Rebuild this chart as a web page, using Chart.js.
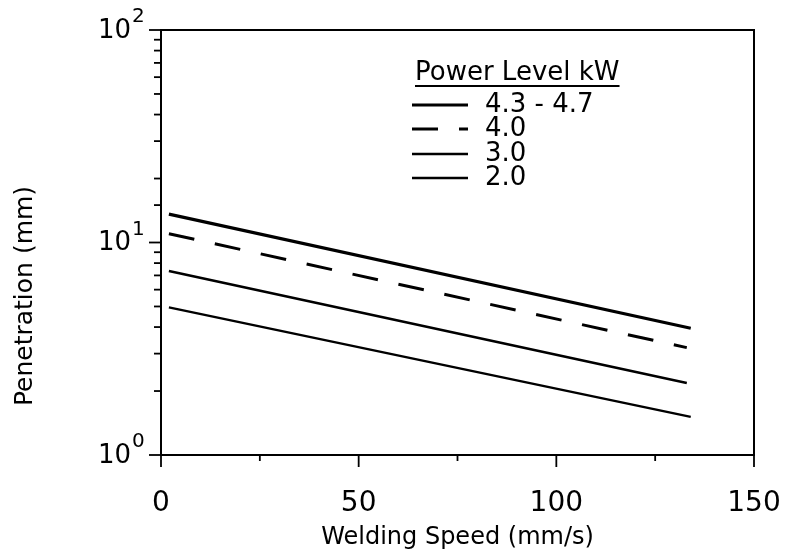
<!DOCTYPE html>
<html><head><meta charset="utf-8">
<script src="https://cdn.jsdelivr.net/npm/chart.js@4/dist/chart.umd.min.js"></script>
<style>html,body{margin:0;padding:0;background:#fff}#wrap{width:787px;height:557px}</style>
</head><body><div id="wrap"><canvas id="c" width="787" height="557"></canvas></div>
<script>
// ---- data ----
const seriesLabels = ['4.3 - 4.7', '4.0', '3.0', '2.0'];
const speeds47 = [2, 134];
const pen47 = [13.6, 3.95];
const speeds40 = [2, 133];
const pen40 = [11.0, 3.2];
const speeds30 = [2, 133];
const pen30 = [7.35, 2.18];
const speeds20 = [2, 134];
const pen20 = [4.95, 1.51];
const xTickValues = [0, 50, 100, 150];
const yDecades = [1, 10, 100];
const legendTitle = 'Power Level kW';
const yTitle = 'Penetration (mm)';
const xTitle = 'Welding Speed (mm/s)';

const FONT = "'DejaVu Sans', sans-serif";
const pts = (xs, ys) => xs.map((x, i) => ({x: x, y: ys[i]}));

const framePlugin = {
  id: 'frame',
  afterDraw(chart) {
    const ctx = chart.ctx, a = chart.chartArea;
    const xs = chart.scales.x, ys = chart.scales.y;
    ctx.save();
    ctx.strokeStyle = '#000';
    ctx.lineWidth = 2;
    ctx.beginPath();
    ctx.moveTo(a.left, a.top); ctx.lineTo(a.right, a.top); ctx.lineTo(a.right, a.bottom);
    ctx.stroke();
    // y tick marks (outward, left)
    ctx.lineWidth = 1.8;
    ys.ticks.forEach(t => {
      const y = ys.getPixelForValue(t.value);
      const major = Math.abs(Math.log10(t.value) - Math.round(Math.log10(t.value))) < 1e-9;
      ctx.beginPath();
      ctx.moveTo(a.left - (major ? 12 : 7), y); ctx.lineTo(a.left, y);
      ctx.stroke();
    });
    // x tick marks (downward)
    for (let v = 0; v <= 150; v += 25) {
      const x = xs.getPixelForValue(v);
      const major = v % 50 === 0;
      ctx.beginPath();
      ctx.moveTo(x, a.bottom); ctx.lineTo(x, a.bottom + (major ? 12 : 6));
      ctx.stroke();
    }
    ctx.fillStyle = '#000';
    // y decade labels 10^n
    yDecades.forEach(v => {
      const y = ys.getPixelForValue(v);
      const e = String(Math.round(Math.log10(v)));
      ctx.font = '26px ' + FONT;
      ctx.textAlign = 'right'; ctx.textBaseline = 'middle';
      ctx.fillText('10', 131, y + 1);
      ctx.font = '20px ' + FONT;
      ctx.textAlign = 'left';
      ctx.fillText(e, 132, y - 13);
    });
    // y axis title
    ctx.save();
    ctx.translate(25, 296);
    ctx.rotate(-Math.PI / 2);
    ctx.font = '25px ' + FONT;
    ctx.textAlign = 'center'; ctx.textBaseline = 'middle';
    ctx.fillText(yTitle, 0, 0);
    ctx.restore();
    // legend
    ctx.font = '26px ' + FONT;
    ctx.textAlign = 'left'; ctx.textBaseline = 'middle';
    ctx.fillText(legendTitle, 415, 73);
    const tw = ctx.measureText(legendTitle).width;
    ctx.lineWidth = 1.8; ctx.setLineDash([]);
    ctx.beginPath(); ctx.moveTo(415, 86); ctx.lineTo(415 + tw, 86); ctx.stroke();
    const rowY = [105, 129, 154, 178];
    ctx.font = '26px ' + FONT;
    chart.data.datasets.forEach((ds, i) => {
      const y = rowY[i];
      ctx.save();
      ctx.strokeStyle = ds.borderColor;
      ctx.lineWidth = ds.borderWidth;
      ctx.setLineDash(ds.borderDash || []);
      ctx.beginPath(); ctx.moveTo(412, y); ctx.lineTo(468, y); ctx.stroke();
      ctx.restore();
      ctx.fillText(ds.label, 485, y);
    });
    ctx.restore();
  }
};

new Chart(document.getElementById('c'), {
  type: 'line',
  data: {
    datasets: [
      {label: seriesLabels[0], data: pts(speeds47, pen47), borderColor: '#000', borderWidth: 3.2},
      {label: seriesLabels[1], data: pts(speeds40, pen40), borderColor: '#000', borderWidth: 3, borderDash: [26, 21]},
      {label: seriesLabels[2], data: pts(speeds30, pen30), borderColor: '#000', borderWidth: 2.6},
      {label: seriesLabels[3], data: pts(speeds20, pen20), borderColor: '#000', borderWidth: 2.3}
    ]
  },
  options: {
    responsive: false,
    animation: false,
    devicePixelRatio: 1,
    layout: {padding: {top: 30, right: 33, left: 0, bottom: 0}},
    elements: {point: {radius: 0}, line: {tension: 0}},
    plugins: {legend: {display: false}, tooltip: {enabled: false}},
    scales: {
      x: {
        type: 'linear', min: 0, max: 150,
        afterFit: s => { s.height = 102; s.paddingLeft = 0; s.paddingRight = 0; },
        afterBuildTicks: s => { s.ticks = xTickValues.map(v => ({value: v})); },
        grid: {display: false},
        border: {display: true, color: '#000', width: 2},
        ticks: {color: '#000', font: {family: FONT, size: 28}, padding: 24, maxRotation: 0, autoSkip: false},
        title: {display: true, text: xTitle, color: '#000', font: {family: FONT, size: 24}, padding: {top: 0, bottom: 5}}
      },
      y: {
        type: 'logarithmic', min: 1, max: 100,
        afterFit: s => { s.width = 161; s.paddingTop = 0; s.paddingBottom = 0; },
        grid: {display: false},
        border: {display: true, color: '#000', width: 2},
        ticks: {display: false},
        title: {display: false}
      }
    }
  },
  plugins: [framePlugin]
});
</script>
</body></html>
